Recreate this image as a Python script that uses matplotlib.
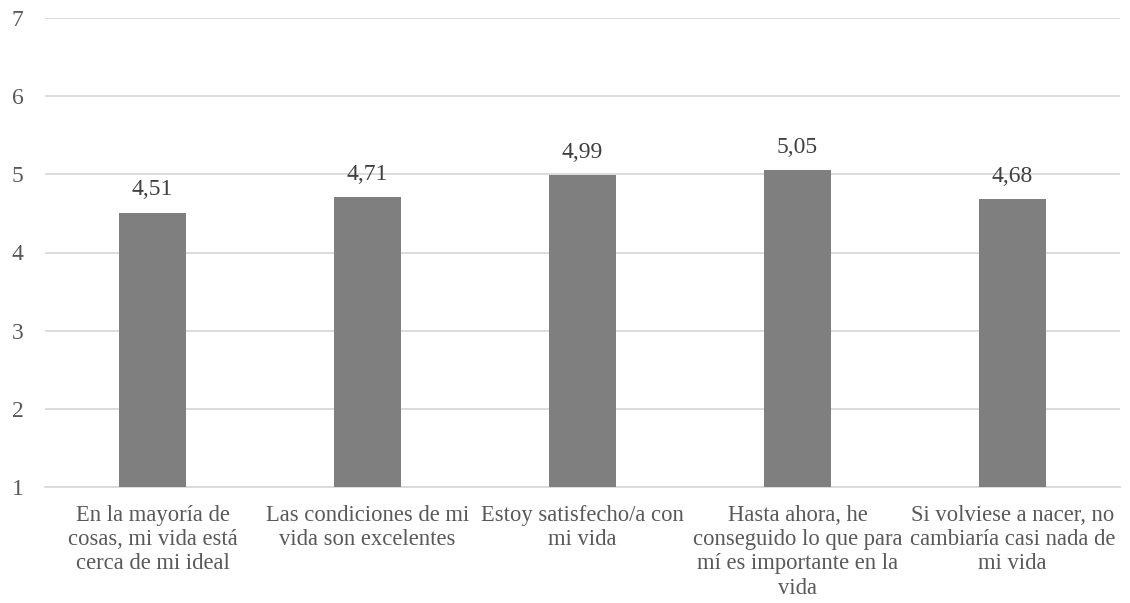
import matplotlib.pyplot as plt

# medias por ítem de la escala de satisfacción con la vida
categorias = [
    "En la mayoría de\ncosas, mi vida está\ncerca de mi ideal",
    "Las condiciones de mi\nvida son excelentes",
    "Estoy satisfecho/a con\nmi vida",
    "Hasta ahora, he\nconseguido lo que para\nmí es importante en la\nvida",
    "Si volviese a nacer, no\ncambiaría casi nada de\nmi vida",
]
medias = [4.51, 4.71, 4.99, 5.05, 4.68]
y_ticks = [1, 2, 3, 4, 5, 6, 7]

plt.rcParams['font.family'] = ['Liberation Serif', 'DejaVu Serif']

fig = plt.figure(figsize=(11.3, 6.03), dpi=100)
ax = fig.add_axes([45 / 1130, 1 - 487 / 603, 1075 / 1130, 469 / 603])

x = range(len(medias))
bars = ax.bar(x, medias, width=0.316, color='#7f7f7f', zorder=3)

# etiquetas con el valor encima de cada barra (coma decimal)
for b, v in zip(bars, medias):
    ax.annotate(f"{v:.2f}".replace('.', ','),
                (b.get_x() + b.get_width() / 2, v),
                xytext=(0, 12.5), textcoords='offset points',
                ha='center', va='baseline', fontsize=17, color='#404040')

ax.set_xlim(-0.5, len(medias) - 0.5)
ax.set_ylim(1, 7)
ax.set_yticks(y_ticks)
ax.set_yticklabels([str(t) for t in y_ticks])
ax.set_xticks(list(x))
ax.set_xticklabels(categorias, fontsize=16.3, color='#595959', linespacing=1.2)

ax.grid(axis='y', color='#d9d9d9', linewidth=1.3, zorder=0)
for s in ['top', 'right', 'left']:
    ax.spines[s].set_visible(False)
ax.spines['bottom'].set_color('#d9d9d9')
ax.spines['bottom'].set_linewidth(1.3)
ax.tick_params(axis='both', length=0)
ax.tick_params(axis='y', labelsize=17, labelcolor='#595959', pad=15.5)
ax.tick_params(axis='x', pad=13)

fig.savefig('out.png', dpi=100)
